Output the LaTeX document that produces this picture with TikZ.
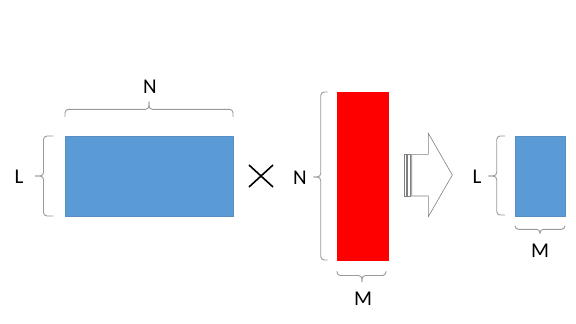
\documentclass[tikz,border=0pt]{standalone}
\usepackage{fontspec}
\setmainfont{Carlito}
\definecolor{mblue}{HTML}{5B9BD5}
\definecolor{mblueline}{HTML}{5A8FC4}
\definecolor{bracegray}{HTML}{9A9A9A}
\definecolor{arrowgray}{HTML}{808080}
\begin{document}
\begin{tikzpicture}[x=1pt,y=-1pt,
  lab/.style={font=\fontsize{21}{21}\selectfont,inner sep=0pt,text=black},
  brc/.style={draw=bracegray,line width=0.9pt,rounded corners=3.5pt},
  stripe/.style={draw=arrowgray,fill=white,line width=0.6pt}]
\useasboundingbox (0,0) rectangle (576,324);
% matrices
\path[fill=mblue,draw=mblueline,line width=0.5pt] (65,136) rectangle (233,216);
\path[fill=red,draw=red,line width=0.5pt] (337,92) rectangle (388,260);
\path[fill=mblue,draw=mblueline,line width=0.5pt] (515,136) rectangle (565,216);
% braces: top of blue
\draw[brc] (65,117) -- (65,109.3) -- (149,109.3) -- (149,101.7);
\draw[brc] (149,101.7) -- (149,109.3) -- (233,109.3) -- (233,117);
% left of blue
\draw[brc] (53.3,136) -- (43.5,136) -- (43.5,176) -- (35,176);
\draw[brc] (35,176) -- (43.5,176) -- (43.5,216) -- (53.3,216);
% left of red
\draw[brc] (327.7,92) -- (320.7,92) -- (320.7,177) -- (313.3,177);
\draw[brc] (313.3,177) -- (320.7,177) -- (320.7,260) -- (327.7,260);
% bottom of red
\draw[brc] (337,271) -- (337,275.5) -- (362,275.5) -- (362,282);
\draw[brc] (362,282) -- (362,275.5) -- (386,275.5) -- (386,271);
% left of small
\draw[brc] (505,136) -- (496.7,136) -- (496.7,176) -- (488.3,176);
\draw[brc] (488.3,176) -- (496.7,176) -- (496.7,215) -- (505,215);
% bottom of small
\draw[brc] (515,225.7) -- (515,229.3) -- (540,229.3) -- (540,233.5);
\draw[brc] (540,233.5) -- (540,229.3) -- (565,229.3) -- (565,225.7);
% labels
\node[lab] (nTop) at (150,87) {N};
\node[lab] (lLeft) at (19,177) {L};
\node[lab] (nMid) at (300,178) {N};
\node[lab] (mRed) at (363,299) {M};
\node[lab] (lRight) at (477,177) {L};
\node[lab] (mRight) at (540,251) {M};
% times sign
\coordinate (x1) at (249,165); \coordinate (x2) at (273,187);
\coordinate (x3) at (249,187); \coordinate (x4) at (273,165);
\draw[line width=1.6pt] (x1) -- (x2) (x3) -- (x4);
% striped arrow
\draw[stripe] (404,154.3) rectangle (406.6,196);
\draw[stripe] (407.6,154.3) rectangle (410.6,196);
\draw[stripe,line join=miter] (411.7,154.3) -- (428.3,154.3) -- (428.3,133.3) -- (452.3,175) -- (428.3,216.7) -- (428.3,196) -- (411.7,196) -- cycle;
\end{tikzpicture}
\end{document}
